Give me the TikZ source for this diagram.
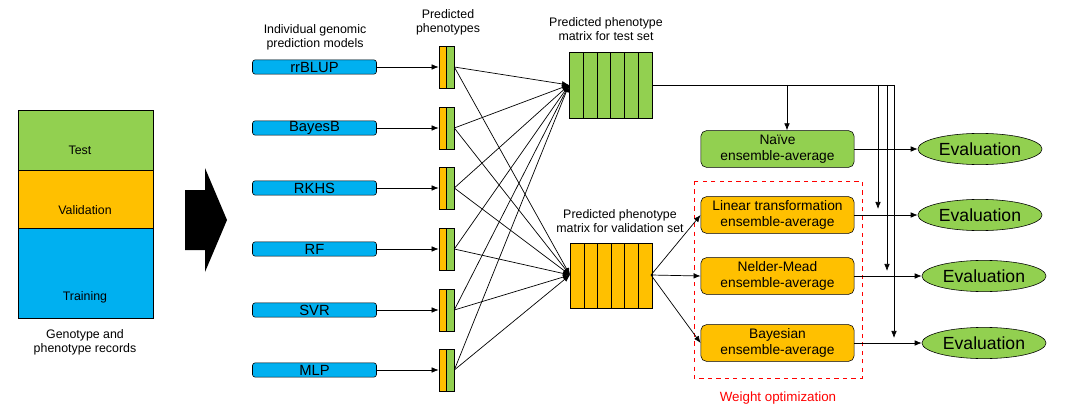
\documentclass[tikz,border=0pt]{standalone}
\usepackage{fontspec}
\setmainfont{Liberation Sans}
\usetikzlibrary{shapes.geometric,arrows.meta}
\definecolor{gr}{HTML}{92D050}
\definecolor{og}{HTML}{FFC000}
\definecolor{bl}{HTML}{00B0F0}
\begin{document}
\begin{tikzpicture}[x=0.025cm,y=-0.025cm,
  lbl/.style={font=\fontsize{8.8}{10}\selectfont,align=center},
  model/.style={draw,rounded corners=2pt,fill=bl,minimum width=3.1cm,minimum height=0.36cm,inner sep=0pt,font=\fontsize{10.5}{10}\selectfont},
  ens/.style={draw,rounded corners=4pt,minimum width=3.83cm,minimum height=0.92cm,inner sep=1pt,align=center,font=\fontsize{9.8}{11.5}\selectfont},
  ev/.style={draw,ellipse,fill=gr,minimum width=3.1cm,minimum height=0.78cm,inner sep=0pt,font=\fontsize{12.5}{12}\selectfont},
  arr/.style={-{Latex[length=5pt,width=4pt]}},
  ln/.style={line width=0.5pt}]
\useasboundingbox (0,0) rectangle (1080,420);
% left stack
\node[draw,fill=gr,minimum width=3.375cm,minimum height=1.5cm,anchor=north west,inner sep=0pt] (test) at (18,110) {};
\node[lbl] at (80,150) {Test};
\node[draw,fill=og,minimum width=3.375cm,minimum height=1.45cm,anchor=north west,inner sep=0pt] (val) at (18,170) {};
\node[lbl] at (85,210) {Validation};
\node[draw,fill=bl,minimum width=3.375cm,minimum height=2.25cm,anchor=north west,inner sep=0pt] (tr) at (18,228) {};
\node[lbl] at (85,297) {Training};
\node[lbl] (rec) at (85,342) {Genotype and\\phenotype records};
% big arrow
\fill[black] (185,190) -- (205,190) -- (205,168) -- (227,220) -- (205,272) -- (205,250) -- (185,250) -- cycle;
% headers
\node[lbl] (h1) at (315,37) {Individual genomic\\prediction models};
\node[lbl] (h2) at (448,22) {Predicted\\phenotypes};
\node[lbl] (h3) at (606,29) {Predicted phenotype\\matrix for test set};
\node[lbl] (h4) at (620,221) {Predicted phenotype\\matrix for validation set};
% models and predicted phenotypes
\foreach \n/\t/\y in {1/rrBLUP/67,2/BayesB/128,3/RKHS/188,4/RF/249,5/SVR/310,6/MLP/370}{
  \node[model] (m\n) at (314.5,\y) {\t};
  \node[draw,fill=og,minimum width=0.18cm,minimum height=1.05cm,inner sep=0pt] (po\n) at (442.5,\y) {};
  \node[draw,fill=gr,minimum width=0.2cm,minimum height=1.05cm,inner sep=0pt] (pg\n) at (450,\y) {};
  \draw[ln,arr] (m\n.east) -- (po\n.west);
}
% matrices
\foreach \i in {0,...,5}{
  \node[draw,fill=gr,minimum width=0.345cm,minimum height=1.65cm,inner sep=0pt,anchor=north west] (tc\i) at (569+\i*13.8,52) {};
  \node[draw,fill=og,minimum width=0.34cm,minimum height=1.62cm,inner sep=0pt,anchor=north west] (vc\i) at (570+\i*13.6,243) {};
}
\coordinate (tin) at (569,85);
\coordinate (vin) at (570,275);
\foreach \n in {1,...,6}{
  \draw[ln,arr] (pg\n.east) -- (tin);
  \draw[ln,arr] (pg\n.east) -- (vin);
}
% ensemble boxes
\node[ens,fill=gr] (nv) at (777.5,149) {Naïve\\ensemble-average};
\node[ens,fill=og] (lt) at (777.5,215) {Linear transformation\\ensemble-average};
\node[ens,fill=og] (nm) at (777.5,276) {Nelder-Mead\\ensemble-average};
\node[ens,fill=og] (by) at (777.5,343) {Bayesian\\ensemble-average};
\draw[red,dashed,line width=0.6pt] (694,181) rectangle (862,378);
\node[text=red,font=\fontsize{9.5}{10}\selectfont] (wo) at (778,398) {Weight optimization};
% evaluations
\node[ev] (e1) at (980,149) {Evaluation};
\node[ev] (e2) at (980,215) {Evaluation};
\node[ev] (e3) at (984,276) {Evaluation};
\node[ev] (e4) at (984,343) {Evaluation};
\draw[ln,arr] (nv.east) -- (nv.east -| e1.west);
\draw[ln,arr] (lt.east) -- (lt.east -| e2.west);
\draw[ln,arr] (nm.east) -- (nm.east -| e3.west);
\draw[ln,arr] (by.east) -- (by.east -| e4.west);
% validation matrix to boxes
\coordinate (vout) at (651,275);
\draw[ln,arr] (vout) -- (lt.west);
\draw[ln,arr] (vout) -- (nm.west);
\draw[ln,arr] (vout) -- (by.west);
% test matrix feed
\coordinate (tout) at (652,85);
\coordinate (c1) at (787,85);
\coordinate (c2) at (878,85);
\coordinate (c3) at (887,85);
\coordinate (c4) at (894,85);
\draw[ln] (tout) -- (c4);
\draw[ln,arr] (c1) -- (c1 |- nv.north);
\draw[ln,arr] (c2) -- (878,209);
\draw[ln,arr] (c3) -- (887,271);
\draw[ln,arr] (c4) -- (894,338);
\end{tikzpicture}
\end{document}
